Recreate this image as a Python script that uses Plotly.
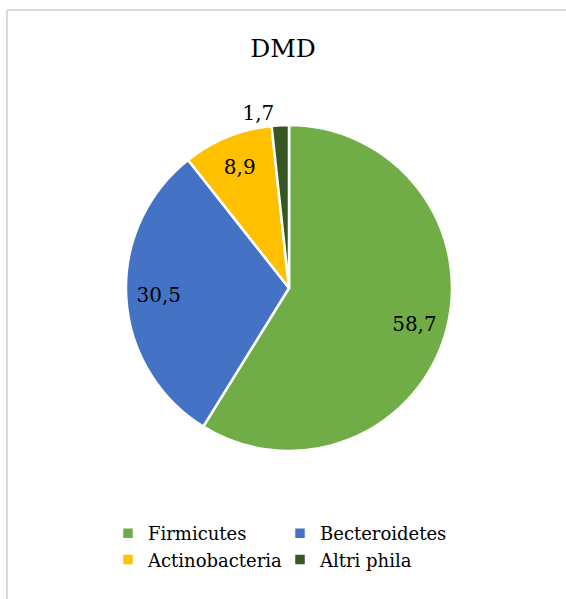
import plotly.graph_objects as go

labels = ["Firmicutes", "Becteroidetes", "Actinobacteria", "Altri phila"]
values = [58.7, 30.5, 8.9, 1.7]
colors = ["#70AD47", "#4472C4", "#FFC000", "#375623"]
text_positions = ["inside", "inside", "inside", "outside"]

W, H = 566, 599
ML, MR = 100, 100
GW = W - ML - MR
cx, cy, r = 289, 288, 163
FONT = "DejaVu Serif"


def px_x(p):
    return (p - ML) / GW


def px_y(p):
    return 1 - p / H


domain = dict(x=[px_x(cx - r), px_x(cx + r)], y=[px_y(cy + r), px_y(cy - r)])

fig = go.Figure(go.Pie(
    labels=labels,
    values=values,
    sort=False,
    direction="clockwise",
    rotation=0,
    marker=dict(colors=colors, line=dict(color="white", width=2.5)),
    textinfo="none",
    hoverinfo="label+value",
    domain=domain,
    showlegend=True,
))

fig.add_trace(go.Pie(
    labels=labels,
    values=values,
    sort=False,
    direction="clockwise",
    rotation=0,
    hole=0.6,
    marker=dict(colors=["rgba(0,0,0,0)"] * len(values), line=dict(width=0)),
    texttemplate="%{value:.1f}",
    textposition=text_positions,
    insidetextorientation="horizontal",
    textfont=dict(family=FONT, size=20, color="black"),
    hoverinfo="skip",
    domain=domain,
    showlegend=False,
))

fig.update_layout(
    width=W, height=H,
    margin=dict(l=ML, r=MR, t=0, b=0, autoexpand=False),
    paper_bgcolor="white",
    separators=",.",
    font=dict(family=FONT, color="black"),
    title=dict(text="DMD", x=283 / W, xanchor="center", y=px_y(48), yanchor="middle",
               font=dict(family=FONT, size=25, color="black")),
    showlegend=True,
    legend=dict(orientation="h", x=px_x(108), xanchor="left", y=px_y(515), yanchor="top",
                entrywidth=127, entrywidthmode="pixels",
                font=dict(family=FONT, size=18, color="black"),
                traceorder="normal"),
    shapes=[
        dict(type="line", xref="paper", yref="paper", x0=px_x(7), x1=px_x(W), y0=px_y(10), y1=px_y(10),
             line=dict(color="#D9D9D9", width=2)),
        dict(type="line", xref="paper", yref="paper", x0=px_x(7), x1=px_x(7), y0=0, y1=px_y(10),
             line=dict(color="#D9D9D9", width=2)),
    ],
)

fig.write_html("out.html")
